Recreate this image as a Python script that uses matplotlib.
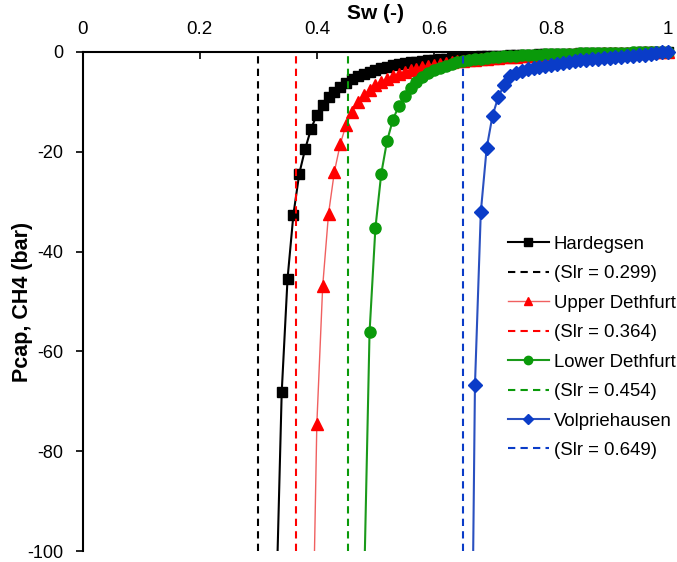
import numpy as np
import matplotlib
matplotlib.use("Agg")
import matplotlib.pyplot as plt
from matplotlib.lines import Line2D

plt.rcParams['font.family'] = ['Liberation Sans', 'DejaVu Sans']
plt.rcParams['axes.unicode_minus'] = False

# water saturation steps (0.01) and capillary pressure (bar)
sw_hard = [0.33, 0.34, 0.35, 0.36, 0.37, 0.38, 0.39, 0.40, 0.41, 0.42, 0.43, 0.44, 0.45, 0.46, 0.47,
           0.48, 0.49, 0.50, 0.51, 0.52, 0.53, 0.54, 0.55, 0.56, 0.57, 0.58, 0.59, 0.60, 0.61, 0.62,
           0.63, 0.64, 0.65, 0.66, 0.67, 0.68, 0.69, 0.70, 0.71, 0.72, 0.73, 0.74, 0.75, 0.76, 0.77,
           0.78, 0.79, 0.80, 0.81, 0.82, 0.83, 0.84, 0.85, 0.86, 0.87, 0.88, 0.89, 0.90, 0.91, 0.92,
           0.93, 0.94, 0.95, 0.96, 0.97, 0.98, 0.99, 1.00]
pc_hard = [-113.6, -68.2, -45.4, -32.6, -24.4, -19.5, -15.5, -12.6, -10.6, -9.1, -8.0, -7.0, -6.2, -5.5, -4.9,
           -4.4, -4.0, -3.6, -3.3, -3.0, -2.75, -2.5, -2.3, -2.15, -2.0, -1.85, -1.7, -1.6, -1.5, -1.4,
           -1.3, -1.2, -1.15, -1.08, -1.0, -0.95, -0.9, -0.85, -0.8, -0.76, -0.72, -0.68, -0.64, -0.61, -0.57,
           -0.54, -0.51, -0.48, -0.45, -0.42, -0.4, -0.37, -0.35, -0.33, -0.3, -0.28, -0.26, -0.24, -0.22, -0.2,
           -0.18, -0.16, -0.14, -0.12, -0.1, -0.07, -0.04, 0.0]

sw_upper = [0.39, 0.40, 0.41, 0.42, 0.43, 0.44, 0.45, 0.46, 0.47, 0.48, 0.49, 0.50, 0.51, 0.52, 0.53,
            0.54, 0.55, 0.56, 0.57, 0.58, 0.59, 0.60, 0.61, 0.62, 0.63, 0.64, 0.65, 0.66, 0.67, 0.68,
            0.69, 0.70, 0.71, 0.72, 0.73, 0.74, 0.75, 0.76, 0.77, 0.78, 0.79, 0.80, 0.81, 0.82, 0.83,
            0.84, 0.85, 0.86, 0.87, 0.88, 0.89, 0.90, 0.91, 0.92, 0.93, 0.94, 0.95, 0.96, 0.97, 0.98,
            0.99, 1.00]
pc_upper = [-138.0, -74.5, -46.9, -32.4, -24.0, -18.5, -14.6, -12.0, -10.0, -8.6, -7.6, -6.7, -6.0, -5.4, -4.9,
            -4.45, -4.05, -3.7, -3.4, -3.1, -2.85, -2.6, -2.4, -2.25, -2.1, -1.95, -1.8, -1.7, -1.6, -1.5,
            -1.4, -1.3, -1.22, -1.14, -1.07, -1.0, -0.94, -0.88, -0.82, -0.77, -0.72, -0.67, -0.63, -0.59, -0.55,
            -0.51, -0.48, -0.44, -0.41, -0.38, -0.35, -0.32, -0.29, -0.26, -0.23, -0.2, -0.18, -0.15, -0.12, -0.09,
            -0.05, 0.0]

sw_lower = [0.48, 0.49, 0.50, 0.51, 0.52, 0.53, 0.54, 0.55, 0.56, 0.57, 0.58, 0.59, 0.60, 0.61, 0.62,
            0.63, 0.64, 0.65, 0.66, 0.67, 0.68, 0.69, 0.70, 0.71, 0.72, 0.73, 0.74, 0.75, 0.76, 0.77,
            0.78, 0.79, 0.80, 0.81, 0.82, 0.83, 0.84, 0.85, 0.86, 0.87, 0.88, 0.89, 0.90, 0.91, 0.92,
            0.93, 0.94, 0.95, 0.96, 0.97, 0.98, 0.99, 1.00]
pc_lower = [-111.0, -56.2, -35.3, -24.4, -17.8, -13.6, -10.8, -8.8, -7.2, -6.0, -5.0, -4.3, -3.7, -3.2, -2.8,
            -2.45, -2.15, -1.9, -1.7, -1.52, -1.37, -1.24, -1.13, -1.03, -0.94, -0.86, -0.79, -0.73, -0.67, -0.62,
            -0.57, -0.53, -0.49, -0.46, -0.42, -0.39, -0.36, -0.34, -0.31, -0.29, -0.26, -0.24, -0.22, -0.2, -0.18,
            -0.16, -0.14, -0.12, -0.1, -0.08, -0.06, -0.03, 0.0]

sw_volp = [0.66, 0.67, 0.68, 0.69, 0.70, 0.71, 0.72, 0.73, 0.74, 0.75, 0.76, 0.77, 0.78, 0.79, 0.80,
           0.81, 0.82, 0.83, 0.84, 0.85, 0.86, 0.87, 0.88, 0.89, 0.90, 0.91, 0.92, 0.93, 0.94, 0.95,
           0.96, 0.97, 0.98, 0.99, 1.00]
pc_volp = [-177.0, -66.8, -32.1, -19.3, -12.8, -9.0, -6.6, -4.8, -4.2, -3.8, -3.5, -3.2, -3.0, -2.8, -2.6,
           -2.4, -2.2, -2.05, -1.9, -1.75, -1.6, -1.5, -1.4, -1.3, -1.2, -1.1, -1.0, -0.9, -0.8, -0.7,
           -0.6, -0.45, -0.3, -0.15, 0.0]

names = ["Hardegsen", "Upper Dethfurt", "Lower Dethfurt", "Volpriehausen"]
slr = [0.299, 0.364, 0.454, 0.649]

series = [(sw_hard, pc_hard), (sw_upper, pc_upper), (sw_lower, pc_lower), (sw_volp, pc_volp)]
colors = ["black", "#FF0000", "#0A9A0A", "#0A3CC8"]
line_colors = ["black", "#F06060", "#1A9A1A", "#2A50C0"]
markers = ["s", "^", "o", "D"]
msizes = [7.5, 8.5, 8.0, 6.8]
lwidths = [1.5, 1.0, 1.5, 1.5]

fig = plt.figure(figsize=(6.77, 5.62), dpi=100)
ax = fig.add_axes([0.122, 0.019, 0.865, 0.889])

handles = []
labels = []
for i, (sw, pc) in enumerate(series):
    sw = np.array(sw)
    pc = np.array(pc)
    ax.plot(sw, pc, color=line_colors[i], lw=lwidths[i], zorder=2 + i)
    inside = pc >= -100
    ax.plot(sw[inside], pc[inside], ls="none", marker=markers[i], ms=msizes[i],
            color=colors[i], mec=colors[i], clip_on=False, zorder=2 + i)
    ax.axvline(slr[i], color=colors[i], ls=(0, (3.5, 2.5)), lw=1.5, zorder=6)
    handles.append(Line2D([], [], color=line_colors[i], lw=lwidths[i], marker=markers[i],
                          ms=msizes[i] * 0.75, mfc=colors[i], mec=colors[i]))
    labels.append(names[i])
    handles.append(Line2D([], [], color=colors[i], lw=1.5, ls=(0, (3.5, 2.5))))
    labels.append("(Slr = %.3f)" % slr[i])

ax.set_xlim(0, 1)
ax.set_ylim(-100, 0)
ax.set_xticks(np.arange(0, 1.01, 0.2))
ax.set_xticklabels(["0", "0.2", "0.4", "0.6", "0.8", "1"])
ax.set_yticks(np.arange(-100, 1, 20))
ax.xaxis.tick_top()
ax.xaxis.set_label_position("top")
ax.spines["right"].set_visible(False)
ax.spines["bottom"].set_visible(False)
ax.spines["top"].set_linewidth(1.5)
ax.spines["left"].set_linewidth(1.5)
ax.tick_params(axis="x", direction="in", length=5, width=1.2, labelsize=13.5, pad=10)
ax.tick_params(axis="y", direction="out", length=5, width=1.2, labelsize=13, pad=9)
ax.set_xlabel("Sw (-)", fontsize=15, fontweight="bold")
ax.set_ylabel("Pcap, CH4 (bar)", fontsize=15.5, fontweight="bold")
ax.xaxis.set_label_coords(0.5, 1.065)
ax.yaxis.set_label_coords(-0.084, 0.5)

fig.legend(handles, labels, loc="upper left", bbox_to_anchor=(508 / 677, 1 - 235.5 / 562),
           frameon=False, fontsize=13.4, borderpad=0, borderaxespad=0,
           handlelength=2.2, handletextpad=0.25, labelspacing=0.67)

fig.savefig("out.png", dpi=100)
